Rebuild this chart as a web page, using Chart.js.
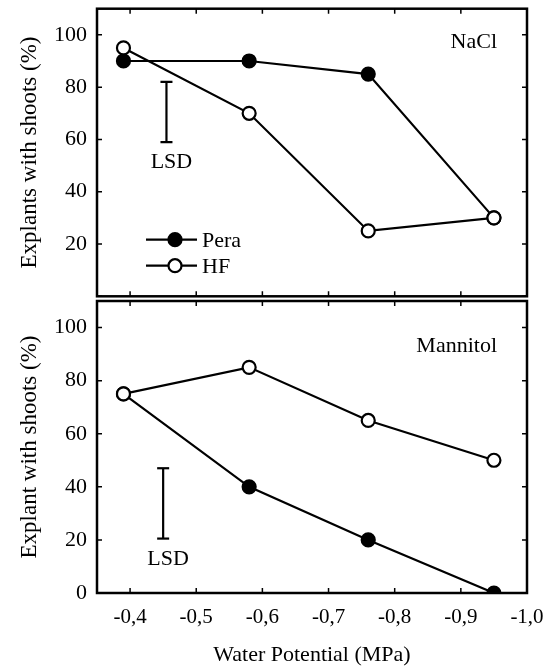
<!DOCTYPE html>
<html>
<head>
<meta charset="utf-8">
<script src="https://cdn.jsdelivr.net/npm/chart.js@4.4.0/dist/chart.umd.min.js"></script>
<style>
  body { margin: 0; background: #fff; }
  #wrap { position: relative; width: 554px; height: 670px; }
  #wrap canvas { position: absolute; left: 0; }
  #topChart { top: 0; }
  #botChart { top: 290px; }
</style>
</head>
<body>
<div id="wrap">
  <canvas id="topChart" width="554" height="305"></canvas>
  <canvas id="botChart" width="554" height="380"></canvas>
</div>
<script>
// water potential (MPa) of the four treatments
const waterPotential = [-0.39, -0.58, -0.76, -0.95];

// NaCl panel
const naclPera = [90, 90, 85, 30];
const naclHF = [95, 70, 25, 30];
const naclLsdX = -0.455;
const naclLsd = [82, 59];

// Mannitol panel
const manPera = [75, 40, 20, 0];
const manHF = [75, 85, 65, 50];
const manLsdX = -0.45;
const manLsd = [47, 20.5];

const xTicks = [-0.4, -0.5, -0.6, -0.7, -0.8, -0.9, -1.0];
const yTicks = [0, 20, 40, 60, 80, 100];

const SERIF = '"Liberation Serif", "Times New Roman", serif';

function pts(values) {
  return values.map((v, i) => ({ x: waterPotential[i], y: v }));
}

function fmtComma(v) {
  return v.toFixed(1).replace('.', ',');
}

// border, inward ticks and the text bits inside each panel
const panelDecor = {
  id: 'panelDecor',
  afterDraw(chart, args, opts) {
    const { ctx, chartArea: a, scales: { x, y } } = chart;
    ctx.save();
    ctx.strokeStyle = '#000';
    ctx.lineWidth = 2.5;
    ctx.strokeRect(a.left, a.top, a.right - a.left, a.bottom - a.top);

    ctx.lineWidth = 1.5;
    ctx.beginPath();
    yTicks.forEach(v => {
      const py = y.getPixelForValue(v);
      ctx.moveTo(a.left, py); ctx.lineTo(a.left + 5, py);
      ctx.moveTo(a.right, py); ctx.lineTo(a.right - 5, py);
    });
    xTicks.forEach(v => {
      const px = x.getPixelForValue(v);
      ctx.moveTo(px, a.bottom); ctx.lineTo(px, a.bottom - 5);
      ctx.moveTo(px, a.top); ctx.lineTo(px, a.top + 5);
    });
    ctx.stroke();

    ctx.fillStyle = '#000';
    ctx.font = '22px ' + SERIF;
    ctx.textAlign = 'right';
    ctx.textBaseline = 'alphabetic';
    ctx.fillText(opts.label, a.right - 30, a.top + opts.labelDy);

    // LSD text under the bar
    ctx.textAlign = 'center';
    const lx = x.getPixelForValue(opts.lsdX) + 5;
    const ly = y.getPixelForValue(Math.min(...opts.lsd)) + 26;
    ctx.fillText('LSD', lx, ly);

    if (opts.legend) {
      const rows = [
        { text: 'Pera', fill: '#000', dy: 231 },
        { text: 'HF', fill: '#fff', dy: 257 }
      ];
      rows.forEach(r => {
        const ry = a.top + r.dy;
        ctx.lineWidth = 2.2;
        ctx.beginPath();
        ctx.moveTo(a.left + 49, ry);
        ctx.lineTo(a.left + 100, ry);
        ctx.stroke();
        ctx.beginPath();
        ctx.arc(a.left + 78, ry, 6.5, 0, Math.PI * 2);
        ctx.fillStyle = r.fill;
        ctx.fill();
        ctx.stroke();
        ctx.fillStyle = '#000';
        ctx.textAlign = 'left';
        ctx.fillText(r.text, a.left + 105, ry + 7);
      });
    }
    ctx.restore();
  }
};

function makeChart(id, opts) {
  const seriesStyle = (fill) => ({
    showLine: true,
    borderColor: '#000',
    borderWidth: 2.2,
    pointRadius: 6.5,
    pointHoverRadius: 6.5,
    pointBorderWidth: 2.2,
    pointBackgroundColor: fill,
    pointBorderColor: '#000',
    backgroundColor: fill
  });

  return new Chart(document.getElementById(id), {
    type: 'scatter',
    data: {
      datasets: [
        { label: 'HF', data: pts(opts.hf), order: 1, ...seriesStyle('#fff') },
        { label: 'Pera', data: pts(opts.pera), order: 2, ...seriesStyle('#000') },
        {
          label: 'LSD',
          data: opts.lsd.map(v => ({ x: opts.lsdX, y: v })),
          order: 3,
          showLine: true,
          borderColor: '#000',
          borderWidth: 2.2,
          pointStyle: 'line',
          pointRadius: 6,
          pointBorderWidth: 2.2,
          pointBorderColor: '#000'
        }
      ]
    },
    options: {
      responsive: false,
      animation: false,
      layout: { padding: { top: opts.padTop, bottom: opts.padBottom, left: 0, right: 27 } },
      plugins: {
        legend: { display: false },
        tooltip: { enabled: false },
        panelDecor: { label: opts.label, labelDy: opts.labelDy, lsdX: opts.lsdX, lsd: opts.lsd, legend: opts.legend }
      },
      scales: {
        x: {
          type: 'linear',
          min: -1.0,
          max: -0.35,
          reverse: true,
          display: opts.showX,
          afterBuildTicks: s => { s.ticks = xTicks.map(v => ({ value: v })); },
          afterFit: s => {
            s.height = opts.showX ? 77 : 0;
            s.paddingLeft = 0;
            s.paddingRight = 0;
          },
          grid: { display: false, drawTicks: false },
          border: { display: false },
          ticks: {
            color: '#000',
            padding: 12,
            font: { family: SERIF, size: 21 },
            callback: v => fmtComma(v)
          },
          title: {
            display: true,
            text: 'Water Potential (MPa)',
            color: '#000',
            font: { family: SERIF, size: 22 },
            padding: { top: 0, bottom: 2 }
          }
        },
        y: {
          min: 0,
          max: 110,
          afterBuildTicks: s => { s.ticks = yTicks.map(v => ({ value: v })); },
          afterFit: s => {
            s.width = 97;
            s.paddingTop = 0;
            s.paddingBottom = 0;
          },
          grid: { display: false, drawTicks: false },
          border: { display: false },
          ticks: {
            color: '#000',
            padding: 10,
            font: { family: SERIF, size: 22 },
            callback: v => (v === 0 && !opts.showZero) ? '' : v
          },
          title: {
            display: true,
            text: opts.yTitle,
            color: '#000',
            font: { family: SERIF, size: 23 },
            padding: { top: 16, bottom: 0 }
          }
        }
      }
    },
    plugins: [panelDecor]
  });
}

makeChart('topChart', {
  pera: naclPera, hf: naclHF, lsdX: naclLsdX, lsd: naclLsd,
  label: 'NaCl', labelDy: 39, legend: true,
  yTitle: 'Explants with shoots (%)',
  padTop: 6, padBottom: 5, showX: false, showZero: false
});

makeChart('botChart', {
  pera: manPera, hf: manHF, lsdX: manLsdX, lsd: manLsd,
  label: 'Mannitol', labelDy: 51, legend: false,
  yTitle: 'Explant with shoots (%)',
  padTop: 11, padBottom: 0, showX: true, showZero: true
});
</script>
</body>
</html>
